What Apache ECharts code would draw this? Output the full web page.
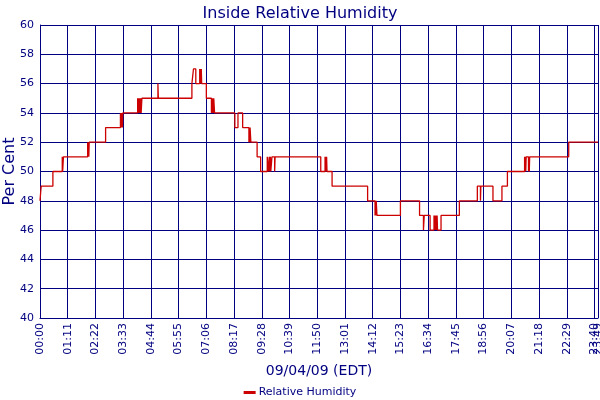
<!DOCTYPE html>
<html>
<head>
<meta charset="utf-8">
<title>Inside Relative Humidity</title>
<script src="https://cdn.jsdelivr.net/npm/echarts@6/dist/echarts.min.js"></script>
<style>
    html, body { margin: 0; padding: 0; background: #ffffff; }
    #chart { width: 600px; height: 400px; }
</style>
</head>
<body>
<div id="chart"></div>
<script>
// minutes after midnight where the reading changes, and the new reading (%)
const changeMinutes = [
    0, 3, 33, 57, 58, 60, 122, 123, 124, 125, 126, 168,
    206, 207, 208, 209, 210, 211, 212,
    250, 251, 252, 254, 255, 257, 258, 259, 261,
    302, 303,
    389, 393, 399, 409, 410, 411, 412, 413, 414,
    426, 439, 440, 441, 442, 444, 445, 447,
    499, 507, 519, 535, 536, 537, 538, 540, 556, 565,
    582, 585, 587, 588, 590, 591, 594, 601, 602, 606,
    719, 730, 731, 732, 733, 734, 735, 748,
    839, 858, 859, 860, 861, 863, 923, 972, 982, 984, 999,
    1009, 1010, 1011, 1012, 1013, 1014, 1015, 1016, 1017, 1018, 1027,
    1074, 1120, 1128, 1129, 1160, 1183, 1197,
    1241, 1242, 1243, 1244, 1245, 1251, 1252, 1253, 1254,
    1354, 1429
];
const humidity = [
    48, 49, 50, 51, 50, 51, 52, 51, 52, 51, 52, 53,
    54, 53, 54, 53, 54, 53, 54,
    55, 54, 55, 54, 55, 54, 55, 54, 55,
    56, 55,
    56, 57, 56, 57, 56, 57, 56, 57, 56,
    55, 54, 55, 54, 55, 54, 55, 54,
    53, 54, 53, 52, 53, 52, 53, 52, 51, 50,
    51, 50, 51, 50, 51, 50, 51, 50, 51, 51,
    50, 51, 50, 51, 50, 51, 50, 49,
    48, 47, 48, 47, 48, 47, 48, 47, 46, 47, 46,
    47, 46, 47, 46, 47, 46, 47, 46, 47, 46, 47,
    48, 49, 48, 49, 48, 49, 50,
    51, 50, 51, 50, 51, 50, 51, 50, 51,
    52, 52
];
const yMin = 40, yMax = 60, yStep = 2;
const xStart = 0, xEnd = 1429, xStep = 71;
// last regular tick (23:40) sits right next to the end label (23:49)
const xLastTick = Math.floor(xEnd / xStep) * xStep;

const navy = '#000080';
const lineRed = '#cc0000';
const font = 'DejaVu Sans';

function toClock(min) {
    const h = Math.floor(min / 60);
    const m = Math.round(min % 60);
    return String(h).padStart(2, '0') + ':' + String(m).padStart(2, '0');
}

const tickLabel = {
    rotate: 90,
    margin: 5,
    color: navy,
    fontFamily: font,
    fontSize: 11,
    hideOverlap: false,
    formatter: toClock
};

const chart = echarts.init(document.getElementById('chart'));
chart.setOption({
    animation: false,
    backgroundColor: '#ffffff',
    title: {
        text: 'Inside Relative Humidity',
        left: 'center',
        top: 1,
        textStyle: { color: navy, fontFamily: font, fontSize: 16, fontWeight: 'normal' }
    },
    legend: {
        top: 382,
        left: 'center',
        icon: 'rect',
        itemWidth: 12,
        itemHeight: 3,
        itemGap: 4,
        textStyle: { color: navy, fontFamily: font, fontSize: 11, padding: [0, 0, 0, -2] },
        data: ['Relative Humidity']
    },
    grid: {
        left: 40, right: 2, top: 25, bottom: 82,
        containLabel: false,
        outerBoundsMode: 'none'
    },
    xAxis: [
        {
            type: 'value',
            min: xStart,
            max: xEnd,
            interval: xStep,
            name: '09/04/09 (EDT)',
            nameLocation: 'middle',
            nameGap: 46,
            nameMoveOverlap: false,
            nameTextStyle: { color: navy, fontFamily: font, fontSize: 14 },
            axisLine: { lineStyle: { color: navy, width: 1 } },
            axisTick: { show: false },
            splitLine: { show: true, lineStyle: { color: navy, width: 1 } },
            axisLabel: Object.assign({ showMinLabel: true, showMaxLabel: true }, tickLabel)
        },
        {
            // only carries the 23:40 label, which the main axis drops as overlapping
            type: 'value',
            position: 'bottom',
            min: xStart,
            max: xEnd,
            axisLine: { show: false },
            axisTick: { show: false },
            splitLine: { show: false },
            axisLabel: Object.assign({ customValues: [xLastTick] }, tickLabel)
        }
    ],
    yAxis: {
        type: 'value',
        min: yMin,
        max: yMax,
        interval: yStep,
        name: 'Per Cent',
        nameLocation: 'middle',
        nameGap: 22,
        nameMoveOverlap: false,
        nameTextStyle: { color: navy, fontFamily: font, fontSize: 16 },
        axisLine: { show: true, lineStyle: { color: navy, width: 1 } },
        axisTick: { show: false },
        splitLine: { show: true, lineStyle: { color: navy, width: 1 } },
        axisLabel: { color: navy, fontFamily: font, fontSize: 11, margin: 6 }
    },
    series: [{
        name: 'Relative Humidity',
        type: 'line',
        step: 'end',
        showSymbol: false,
        color: lineRed,
        lineStyle: { color: lineRed, width: 1.3 },
        data: changeMinutes.map((t, i) => [t, humidity[i]])
    }]
});
</script>
</body>
</html>
